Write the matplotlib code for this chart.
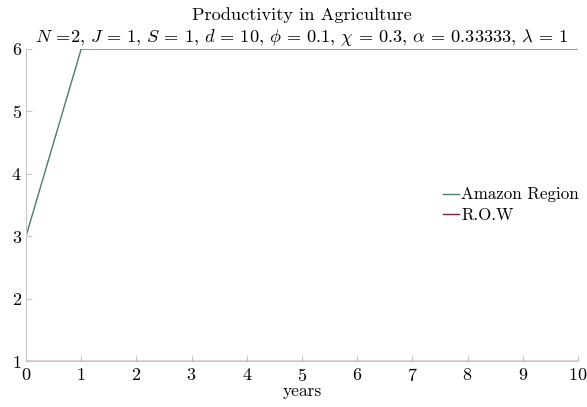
import matplotlib
matplotlib.use("Agg")
import matplotlib.pyplot as plt

plt.rcParams["font.family"] = "cmr10"
plt.rcParams["mathtext.fontset"] = "cm"
plt.rcParams["axes.formatter.use_mathtext"] = True
plt.rcParams["font.size"] = 13

years = [0, 1, 2, 3, 4, 5, 6, 7, 8, 9, 10]
amazon = [3, 6, 6, 6, 6, 6, 6, 6, 6, 6, 6]
row = [1, 1, 1, 1, 1, 1, 1, 1, 1, 1, 1]

params = [r"$N$ =2", r"$J\,=\,1$", r"$S\,=\,1$", r"$d\,=\,10$", r"$\phi\,=\,0.1$",
          r"$\chi\,=\,0.3$", r"$\alpha\,=\,0.33333$", r"$\lambda\,=\,1$"]

fig = plt.figure(figsize=(5.87, 4.07), dpi=100)
ax = fig.add_axes([26 / 587, 1 - 361 / 407, (578 - 26) / 587, (361 - 49) / 407])

ax.plot(years, amazon, color="#4a7d6c", lw=1.0, label="Amazon Region")
ax.plot(years, row, color="#8c1c3c", lw=1.0, label="R.O.W")

ax.set_xlim(0, 10)
ax.set_ylim(1, 6)
ax.set_xticks(range(0, 11))
ax.set_yticks(range(1, 7))
ax.set_xlabel("years", labelpad=0, fontsize=12.5)

for s in ["top", "right"]:
    ax.spines[s].set_visible(False)
for s in ["left", "bottom"]:
    ax.spines[s].set_color("#c8c8c8")
    ax.spines[s].set_linewidth(0.8)
ax.tick_params(direction="in", color="#c8c8c8", length=4, width=0.8)
ax.tick_params(axis="x", pad=4)
ax.tick_params(axis="y", pad=3)

ax.set_title("Productivity in Agriculture\n" + ", ".join(params),
             fontsize=13.2, pad=5, linespacing=1.25)

ax.legend(loc="center left", bbox_to_anchor=(0.727, 0.5), frameon=False,
          handlelength=1.0, handletextpad=0.1, labelspacing=0.3, fontsize=12.2)

fig.savefig("out.png", dpi=100)
